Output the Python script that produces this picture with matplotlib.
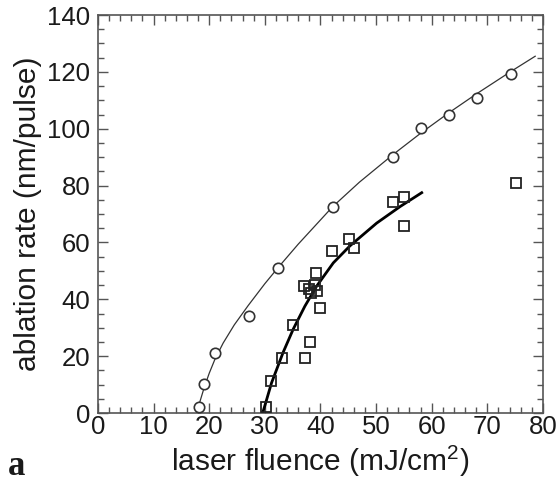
import matplotlib
matplotlib.use("Agg")
import matplotlib.pyplot as plt
from matplotlib.ticker import MultipleLocator

plt.rcParams['font.family'] = ['Liberation Sans', 'DejaVu Sans']
plt.rcParams['mathtext.fontset'] = 'custom'
plt.rcParams['mathtext.rm'] = 'Liberation Sans'

# measured data: circles (first material)
circ_x = [18.2, 19.1, 21.1, 27.2, 32.4, 42.2, 53.1, 58.1, 63.1, 68.1, 74.2]
circ_y = [2.2, 10.1, 21.1, 34.1, 50.9, 72.5, 90.2, 100.1, 104.8, 110.9, 119.1]

# fit curve through circles
circ_fit_x = [17.7, 18.2, 19.1, 20.0, 21.0, 22.5, 24.5, 27.0, 30.0, 32.4, 36.0, 42.2,
              47.0, 53.1, 58.0, 63.0, 68.0, 74.2, 78.6]
circ_fit_y = [0.0, 3.2, 9.0, 14.0, 18.8, 24.6, 31.0, 37.8, 45.5, 51.2, 59.4, 72.6,
              81.2, 91.0, 98.4, 105.5, 112.2, 120.1, 125.5]

# measured data: squares (second material)
sq_x = [30.2, 31.1, 33.1, 37.2, 35.1, 38.1, 40.0, 37.1, 38.0, 39.1, 39.3, 38.3,
        39.2, 42.1, 45.1, 46.0, 53.1, 55.1, 55.1, 75.1]
sq_y = [2.0, 11.3, 19.3, 19.3, 31.0, 25.1, 37.0, 44.6, 43.6, 44.9, 42.8, 42.2,
        49.4, 57.1, 61.2, 57.9, 74.1, 76.1, 65.9, 81.0]

# fit curve through squares
sq_fit_x = [29.6, 30.0, 31.2, 33.3, 35.1, 37.2, 39.3, 42.3, 45.3, 50.1, 54.3, 58.2]
sq_fit_y = [0.0, 2.6, 10.6, 21.4, 29.5, 37.6, 44.6, 52.8, 58.8, 66.8, 72.6, 77.5]

x_ticks = [0, 10, 20, 30, 40, 50, 60, 70, 80]
y_ticks = [0, 20, 40, 60, 80, 100, 120, 140]

fig = plt.figure(figsize=(5.6, 4.86), dpi=100)
ax = fig.add_axes([0.175, 0.1502, 0.7946, 0.8189])

ax.plot(circ_fit_x, circ_fit_y, color='#333333', lw=0.9, zorder=2)
ax.plot(sq_fit_x, sq_fit_y, color='black', lw=2.0, zorder=2)
ax.plot(circ_x, circ_y, linestyle='none', marker='o', ms=7.5, mfc='white',
        mec='#333333', mew=1.2, zorder=3)
ax.plot(sq_x, sq_y, linestyle='none', marker='s', ms=7.5, mfc='none',
        mec='#222222', mew=1.3, zorder=3)

ax.set_xlim(0, 80)
ax.set_ylim(0, 140)
ax.set_xticks(x_ticks)
ax.set_yticks(y_ticks)
ax.xaxis.set_minor_locator(MultipleLocator(2))
ax.yaxis.set_minor_locator(MultipleLocator(5))
ax.tick_params(which='both', direction='in', top=True, right=True,
               color='#555555', width=1.0)
ax.tick_params(which='major', length=7, labelsize=18.5, labelcolor='#1a1a1a')
ax.tick_params(axis='x', which='major', pad=1.5)
ax.tick_params(axis='y', which='major', pad=5.5)
ax.tick_params(which='minor', length=4)
for s in ax.spines.values():
    s.set_color('#555555')
    s.set_linewidth(1.2)

ax.set_xlabel('laser fluence (mJ/cm$^{2}$)', fontsize=21.5, color='#1a1a1a', labelpad=3)
ax.set_ylabel('ablation rate (nm/pulse)', fontsize=21.5, color='#1a1a1a', labelpad=4)

fig.text(8 / 560, 1 - 475 / 486, 'a', family='Liberation Serif', fontweight='bold',
         fontsize=25, color='#1a1a1a', ha='left', va='baseline')

fig.savefig('out.png', dpi=100)
